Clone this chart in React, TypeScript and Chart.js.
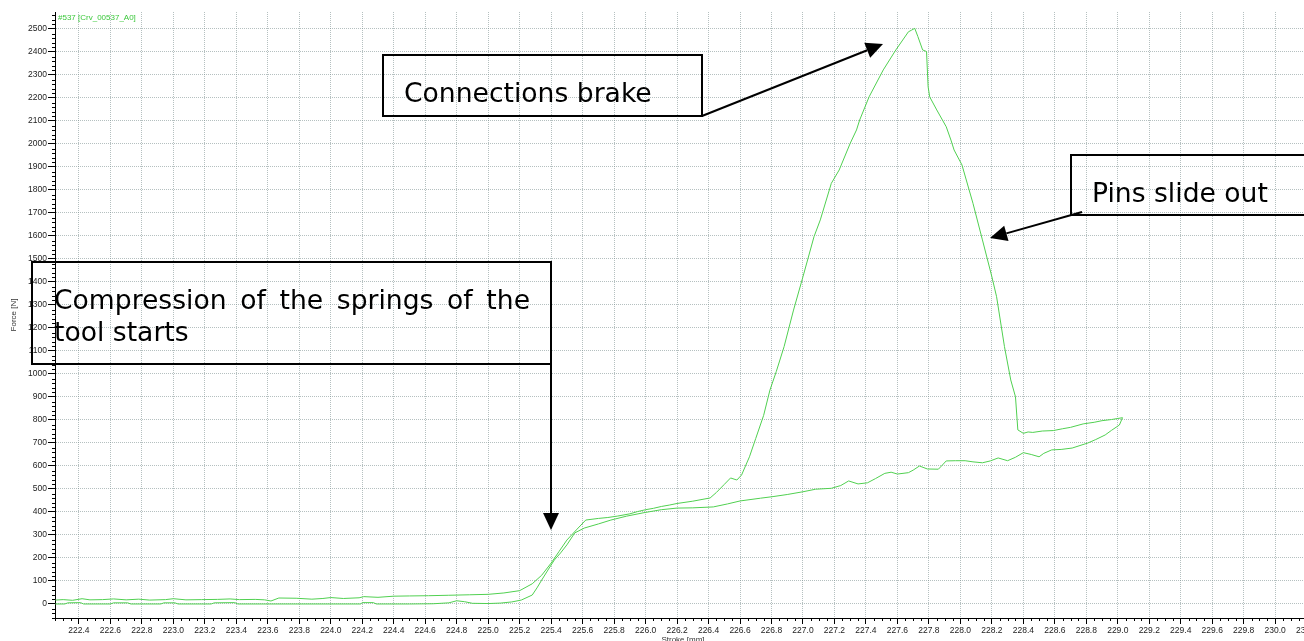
import React, { useEffect, useRef } from "react";
import { Chart, registerables } from "chart.js";

Chart.register(...registerables);

// ---- data (forward stroke: loading path) ----
const strokeOut = [
  222.25, 222.3, 222.36, 222.42, 222.47, 222.55, 222.62, 222.7, 222.78, 222.85, 222.95, 223.0, 223.08,
  223.18, 223.28, 223.36, 223.42, 223.52, 223.58, 223.62, 223.67, 223.78, 223.88, 223.95, 224.0, 224.08,
  224.18, 224.21, 224.3, 224.4, 224.5, 224.62, 224.75, 224.88, 225.0, 225.1, 225.2, 225.28, 225.34, 225.4,
  225.45, 225.5, 225.56, 225.62, 225.7, 225.76, 225.82, 225.9, 225.95, 226.0, 226.05, 226.1, 226.15, 226.2,
  226.3, 226.41, 226.45, 226.5, 226.54, 226.58, 226.61, 226.66, 226.7, 226.75, 226.79, 226.83, 226.88,
  226.94, 227.0, 227.07, 227.11, 227.18, 227.23, 227.3, 227.34, 227.36, 227.42, 227.51, 227.59, 227.67,
  227.69, 227.71, 227.73, 227.76, 227.785, 227.795, 227.805, 227.85, 227.91, 227.94, 227.96, 228.01, 228.08,
  228.14, 228.2, 228.23, 228.28, 228.32, 228.35, 228.365, 228.4, 228.43, 228.46, 228.52, 228.59, 228.65,
  228.7, 228.78, 228.85, 228.9, 228.96, 229.03,
];
const forceOut = [
  17, 19, 16, 23, 18, 19, 22, 18, 21, 17, 19, 23, 18,
  19, 20, 22, 19, 20, 18, 13, 26, 25, 21, 24, 28, 24,
  27, 32, 29, 34, 35, 36, 38, 40, 42, 48, 58, 88, 125, 178,
  228, 278, 322, 365, 372, 376, 382, 392, 402, 410, 416, 424, 430, 437,
  447, 461, 485, 520, 548, 539, 561, 640, 720, 820, 930, 1010, 1119,
  1278, 1423, 1597, 1670, 1829, 1887, 2003, 2061, 2104, 2205, 2322, 2409, 2488,
  2495, 2503, 2467, 2409, 2402, 2249, 2205, 2148, 2075, 2017, 1974, 1909, 1742,
  1583, 1423, 1336, 1119, 974, 901, 757, 742, 748, 746, 752, 754, 762,
  768, 783, 790, 797, 802, 810,
];

// ---- data (return stroke: unloading path) ----
const strokeBack = [
  229.01, 228.96, 228.92, 228.86, 228.81, 228.71, 228.64, 228.58, 228.53, 228.5, 228.45, 228.4, 228.35,
  228.3, 228.24, 228.19, 228.14, 228.08, 228.03, 227.97, 227.91, 227.88, 227.86, 227.79, 227.74, 227.7,
  227.67, 227.6, 227.56, 227.52, 227.46, 227.41, 227.35, 227.29, 227.24, 227.18, 227.08, 227.0, 226.9,
  226.81, 226.73, 226.6, 226.52, 226.43, 226.3, 226.2, 226.1, 225.99, 225.88, 225.78, 225.7, 225.61,
  225.55, 225.5, 225.46, 225.42, 225.38, 225.34, 225.31, 225.28, 225.21, 225.15, 225.08, 225.0, 224.9,
  224.85, 224.8, 224.75, 224.65, 224.5, 224.29, 224.27, 224.2, 224.19, 223.41, 223.39, 223.26, 223.24,
  223.03, 223.01, 222.94, 222.92, 222.73, 222.71, 222.62, 222.6, 222.43, 222.41, 222.33, 222.31, 222.25,
];
const forceBack = [
  778, 755, 735, 715, 700, 678, 672, 670, 655, 640, 650, 658, 638,
  623, 635, 622, 614, 618, 623, 623, 622, 600, 586, 587, 600, 582,
  571, 565, 573, 568, 545, 527, 522, 535, 515, 503, 499, 488, 476,
  467, 460, 448, 435, 422, 418, 417, 410, 397, 382, 365, 348, 330,
  309, 257, 222, 191, 148, 104, 70, 39, 17, 9, 4, 2, 3,
  10, 14, 5, 1, 0, 0, 6, 6, 0, 0, 6, 5, 0,
  0, 5, 5, 0, 0, 5, 5, 0, 0, 6, 5, 0, 0,
];

const seriesLabel = "#537 [Crv_00537_A0]";
const xTitle = "Stroke [mm]";
const yTitle = "Force [N]";
const xMin = 222.248;
const xMax = 230.399;
const yMin = -60.9;
const yMax = 2573.9;
const xStep = 0.2;
const yStep = 100;
const xMinorStep = 0.05;
const yMinorStep = 20;

const noteConnections = "Connections brake";
const notePins = "Pins slide out";
const noteSpringsLine1 = "Compression of the springs of the";
const noteSpringsLine2 = "tool starts";

const LINE_GREEN = "rgb(80,208,80)";
const GRID = "rgba(120,140,140,0.55)";
const NOTE_FONT = '26.6px "DejaVu Sans"';

function drawArrow(ctx: CanvasRenderingContext2D, x1: number, y1: number, x2: number, y2: number) {
  const ang = Math.atan2(y2 - y1, x2 - x1);
  const headLen = 17;
  const headW = 8;
  const bx = x2 - headLen * Math.cos(ang);
  const by = y2 - headLen * Math.sin(ang);
  ctx.beginPath();
  ctx.moveTo(x1, y1);
  ctx.lineTo(bx, by);
  ctx.stroke();
  ctx.beginPath();
  ctx.moveTo(x2, y2);
  ctx.lineTo(bx + headW * Math.sin(ang), by - headW * Math.cos(ang));
  ctx.lineTo(bx - headW * Math.sin(ang), by + headW * Math.cos(ang));
  ctx.closePath();
  ctx.fill();
}

const overlayPlugin = {
  id: "overlay",
  afterDraw(chart: any) {
    const ctx: CanvasRenderingContext2D = chart.ctx;
    const xs = chart.scales.x;
    const ys = chart.scales.y;
    const area = chart.chartArea;
    ctx.save();

    // minor ticks
    ctx.strokeStyle = "#000";
    ctx.lineWidth = 1;
    ctx.beginPath();
    const kx0 = Math.ceil(xs.min / xMinorStep);
    const kx1 = Math.floor(xs.max / xMinorStep);
    for (let k = kx0; k <= kx1; k++) {
      if (k % 4 === 0) continue;
      const px = Math.round(xs.getPixelForValue(k * xMinorStep)) + 0.5;
      ctx.moveTo(px, area.bottom);
      ctx.lineTo(px, area.bottom + 3);
    }
    const ky0 = Math.ceil(ys.min / yMinorStep);
    const ky1 = Math.floor(ys.max / yMinorStep);
    for (let k = ky0; k <= ky1; k++) {
      if (k % 5 === 0) continue;
      const py = Math.round(ys.getPixelForValue(k * yMinorStep)) + 0.5;
      ctx.moveTo(area.left, py);
      ctx.lineTo(area.left - 3, py);
    }
    ctx.stroke();

    // series label
    ctx.font = '8px "Liberation Sans"';
    ctx.fillStyle = "rgb(60,200,60)";
    ctx.textAlign = "left";
    ctx.textBaseline = "alphabetic";
    ctx.fillText(seriesLabel, area.left + 3, 20);

    // axis titles
    ctx.fillStyle = "#333";
    ctx.font = '8px "Liberation Sans"';
    ctx.textAlign = "center";
    ctx.textBaseline = "top";
    ctx.fillText(xTitle, 683, 636);
    ctx.save();
    ctx.translate(14, (area.top + area.bottom) / 2);
    ctx.rotate(-Math.PI / 2);
    ctx.textBaseline = "middle";
    ctx.fillText(yTitle, 0, 0);
    ctx.restore();

    // annotation boxes
    ctx.strokeStyle = "#000";
    ctx.fillStyle = "#000";
    ctx.lineWidth = 2;
    ctx.strokeRect(383, 55, 319, 61);
    ctx.strokeRect(1071, 155, 320, 60);
    ctx.strokeRect(32, 262, 519, 102);

    ctx.font = NOTE_FONT;
    ctx.textAlign = "left";
    ctx.textBaseline = "alphabetic";
    ctx.fillText(noteConnections, 404, 102);
    ctx.fillText(notePins, 1092, 202);

    const words = noteSpringsLine1.split(" ");
    const widths = words.map((w) => ctx.measureText(w).width);
    const total = widths.reduce((a, b) => a + b, 0);
    const gap = (530 - 54 - total) / (words.length - 1);
    let x = 54;
    words.forEach((w, i) => {
      ctx.fillText(w, x, 309);
      x += widths[i] + gap;
    });
    ctx.fillText(noteSpringsLine2, 54, 341);

    // arrows
    drawArrow(ctx, 702, 116, 883, 44);
    drawArrow(ctx, 1082, 212, 990, 238);
    drawArrow(ctx, 551, 364, 551, 530);

    ctx.restore();
  },
};

export default function App() {
  const ref = useRef<HTMLCanvasElement | null>(null);
  useEffect(() => {
    if (!ref.current) return;
    const points = [
      ...strokeOut.map((s, i) => ({ x: s, y: forceOut[i] })),
      ...strokeBack.map((s, i) => ({ x: s, y: forceBack[i] })),
    ];
    const chart = new Chart(ref.current, {
      type: "scatter",
      data: {
        datasets: [
          {
            label: seriesLabel,
            data: points,
            showLine: true,
            borderColor: LINE_GREEN,
            backgroundColor: LINE_GREEN,
            borderWidth: 1,
            pointRadius: 0,
            tension: 0,
          },
        ],
      },
      options: {
        animation: false,
        responsive: false,
        devicePixelRatio: 1,
        layout: { padding: { left: 0, top: 12, right: 22, bottom: 0 } },
        plugins: { legend: { display: false }, tooltip: { enabled: false } },
        scales: {
          x: {
            type: "linear",
            min: xMin,
            max: xMax,
            afterFit: (s: any) => {
              s.height = 23;
            },
            border: { display: true, color: "#000", width: 1, dash: [1, 1] },
            grid: {
              color: GRID,
              lineWidth: 1,
              drawTicks: true,
              tickLength: 6,
              tickColor: "#000",
              tickWidth: 1,
            },
            ticks: {
              stepSize: xStep,
              includeBounds: false,
              autoSkip: false,
              maxRotation: 0,
              padding: 2,
              color: "#222",
              font: { family: "Liberation Sans", size: 8.5 },
              callback: (v: any) => Number(v).toFixed(1),
            },
          },
          y: {
            type: "linear",
            min: yMin,
            max: yMax,
            afterFit: (s: any) => {
              s.width = 55;
            },
            border: { display: true, color: "#000", width: 1, dash: [1, 1] },
            grid: {
              color: GRID,
              lineWidth: 1,
              drawTicks: true,
              tickLength: 7,
              tickColor: "#000",
              tickWidth: 1,
            },
            ticks: {
              stepSize: yStep,
              includeBounds: false,
              autoSkip: false,
              padding: 1,
              color: "#222",
              font: { family: "Liberation Sans", size: 8.5 },
              callback: (v: any) => String(Math.round(Number(v))),
            },
          },
        },
      },
      plugins: [overlayPlugin],
    });
    return () => chart.destroy();
  }, []);

  return (
    <div
      style={{
        position: "fixed",
        left: 0,
        top: 0,
        width: 1304,
        height: 641,
        overflow: "hidden",
        background: "#fff",
      }}
    >
      <canvas ref={ref} width={1360} height={641} style={{ display: "block", width: 1360, height: 641 }} />
    </div>
  );
}
